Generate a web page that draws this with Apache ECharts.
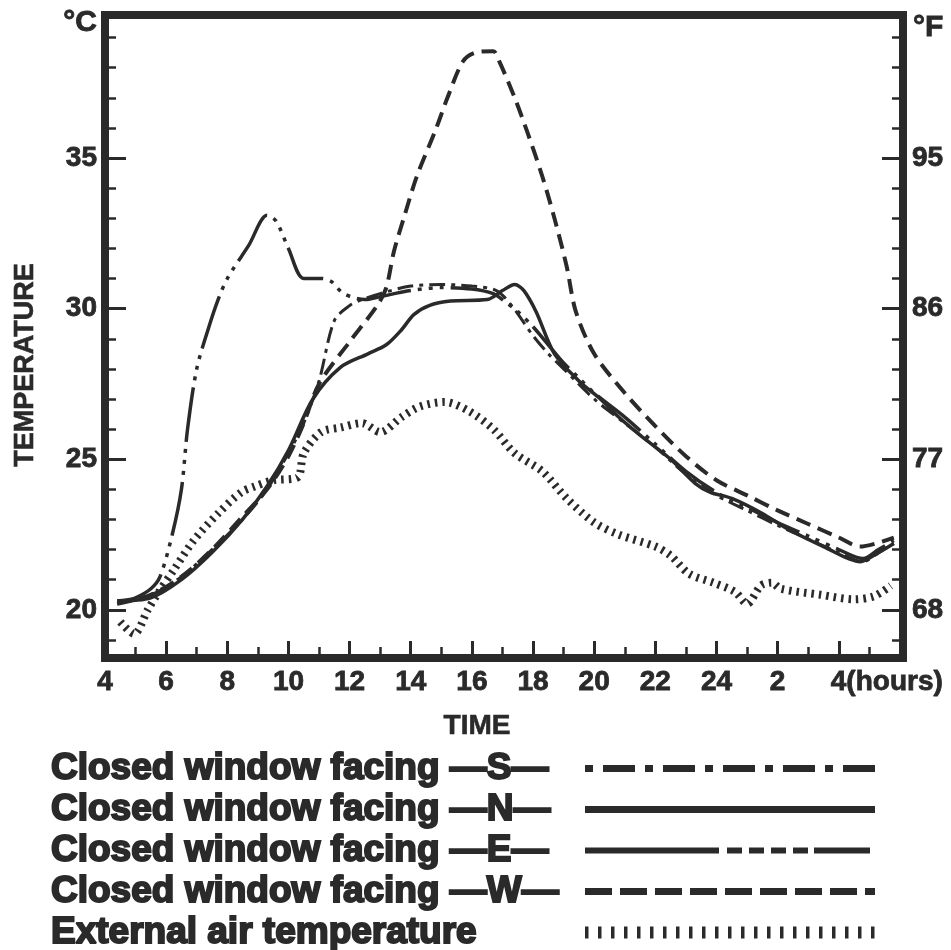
<!DOCTYPE html>
<html><head><meta charset="utf-8">
<script src="https://cdn.jsdelivr.net/npm/echarts@6/dist/echarts.min.js"></script>
<style>html,body{margin:0;padding:0;background:#fff}#c{width:951px;height:950px}</style>
</head><body><div id="c"></div>
<script>
// ---- tick labels ----
const xTickValues = [4, 6, 8, 10, 12, 14, 16, 18, 20, 22, 24, 26, 28];
const xTickLabels = ['4', '6', '8', '10', '12', '14', '16', '18', '20', '22', '24', '2', '4(hours)'];
const yTickValuesC = [20, 25, 30, 35];
const yTickLabelsC = ['20', '25', '30', '35'];
const yTickLabelsF = ['68', '77', '86', '95'];

// ---- series names ----
const seriesNames = [
  'Closed window facing \u2014S\u2014',
  'Closed window facing \u2014N\u2014',
  'Closed window facing \u2014E\u2014',
  'Closed window facing \u2014W\u2014',
  'External air temperature'
];

// ---- data (time in hours from 4 h, temperature in °C) ----
const sTime = [4.4, 5.0, 5.5, 5.8, 6.2, 6.5, 6.7, 7.0, 7.4, 7.7, 8.0, 8.7, 9.3, 9.6, 10.0, 10.5, 11.1, 11.4, 11.8, 12.5, 13.0, 14.0, 15.0, 16.0, 16.7, 17.0, 17.5, 18.0, 18.5, 19.0, 19.5, 20.0, 21.0, 22.0, 23.0, 24.0, 25.0, 26.0, 27.0, 28.0, 28.8, 29.3, 29.8];
const sTemp = [20.2, 20.4, 20.7, 21.1, 22.5, 24.0, 26.0, 28.0, 29.4, 30.3, 31.0, 32.1, 33.1, 32.9, 32.0, 31.0, 31.0, 30.9, 30.5, 30.3, 30.4, 30.6, 30.7, 30.65, 30.5, 30.3, 29.9, 29.4, 28.8, 28.2, 27.7, 27.2, 26.4, 25.5, 24.6, 23.9, 23.4, 22.9, 22.45, 22.0, 21.7, 22.0, 22.3];

const nTime = [4.4, 5.5, 6.5, 7.5, 8.5, 9.3, 10.0, 10.8, 11.7, 12.6, 13.2, 13.7, 14.1, 14.6, 15.3, 16.5, 17.0, 17.4, 17.7, 18.1, 18.7, 19.5, 20.2, 20.8, 21.5, 22.5, 23.3, 23.8, 24.5, 25.5, 26.3, 27.5, 28.7, 29.3, 29.8];
const nTemp = [20.3, 20.4, 21.0, 21.9, 23.0, 24.1, 25.3, 27.0, 28.05, 28.5, 28.8, 29.3, 29.8, 30.1, 30.25, 30.3, 30.6, 30.8, 30.6, 29.9, 28.5, 27.6, 27.0, 26.4, 25.8, 25.0, 24.2, 23.9, 23.7, 23.2, 22.7, 22.1, 21.6, 21.9, 22.2];

const eTime = [4.4, 5.5, 6.5, 7.5, 8.5, 9.3, 10.0, 10.5, 11.0, 11.5, 12.0, 12.4, 13.0, 14.0, 15.0, 16.0, 16.8, 17.3, 18.0, 18.5, 19.0, 20.0, 21.0, 22.0, 23.0, 24.0, 25.0, 26.0, 27.0, 28.0, 28.8, 29.3, 29.8];
const eTemp = [20.3, 20.5, 21.1, 22.0, 23.0, 24.0, 25.2, 26.2, 27.6, 29.6, 30.1, 30.3, 30.5, 30.75, 30.8, 30.75, 30.6, 30.1, 29.1, 28.5, 28.0, 27.0, 26.2, 25.4, 24.5, 23.8, 23.3, 22.8, 22.35, 21.9, 21.6, 21.9, 22.2];

const wTime = [4.4, 5.5, 6.5, 7.5, 8.5, 9.3, 10.0, 10.5, 11.0, 12.0, 12.9, 13.2, 13.45, 13.8, 14.2, 14.8, 15.2, 15.7, 16.1, 16.7, 16.9, 17.4, 17.8, 18.3, 18.7, 19.1, 19.4, 20.0, 21.0, 22.0, 23.0, 24.0, 25.0, 26.0, 27.0, 28.0, 28.7, 29.2, 29.8];
const wTemp = [20.2, 20.5, 21.1, 22.0, 23.1, 24.0, 25.1, 26.2, 27.5, 28.9, 30.1, 30.7, 31.9, 33.1, 34.4, 35.9, 37.0, 38.2, 38.5, 38.55, 38.2, 37.0, 35.9, 34.4, 33.0, 31.4, 29.9, 28.5, 27.2, 26.1, 25.1, 24.3, 23.8, 23.3, 22.85, 22.4, 22.1, 22.2, 22.4];

const extTime = [4.5, 4.95, 5.4, 5.7, 6.3, 6.9, 7.7, 8.45, 8.9, 9.5, 10.3, 10.5, 11.07, 11.7, 12.4, 13.0, 13.7, 14.3, 15.1, 15.9, 16.7, 17.4, 18.3, 19.1, 20.0, 20.8, 22.0, 22.5, 23.1, 23.9, 24.6, 25.0, 25.45, 25.8, 26.1, 27.4, 28.5, 29.15, 29.7];
const extTemp = [19.6, 19.2, 20.0, 20.5, 21.4, 22.3, 23.2, 23.9, 24.1, 24.3, 24.4, 25.2, 25.9, 26.05, 26.2, 25.9, 26.4, 26.75, 26.9, 26.6, 26.0, 25.2, 24.6, 23.7, 22.9, 22.5, 22.1, 21.8, 21.2, 20.9, 20.6, 20.2, 20.8, 20.9, 20.7, 20.5, 20.35, 20.45, 20.8];

// ---- styles ----
const INK = '#2a2a2a';
const FONT = '"Liberation Sans", Arial, sans-serif';
const chartLine = [
  { width: 3.5, type: [55, 7, 4, 7, 4, 7, 4, 7] },
  { width: 3.5, type: 'solid' },
  { width: 3, type: [16, 6, 4, 6] },
  { width: 4, type: [15, 8] },
  { width: 8, type: [2.5, 5] }
];
const legendLine = [
  { width: 7, type: [8, 10, 32, 10] },
  { width: 7, type: 'solid' },
  { width: 6, type: [134, 8, 15, 7, 15, 7, 15, 7, 15, 6, 56, 300] },
  { width: 7, type: [27, 8] },
  { width: 12, type: [3.5, 9.5] }
];

function pairs(t, v) { return t.map((x, i) => [x, v[i]]); }
const seriesData = [pairs(sTime, sTemp), pairs(nTime, nTemp), pairs(eTime, eTemp), pairs(wTime, wTemp), pairs(extTime, extTemp)];

function findIdx(arr, v) { for (let i = 0; i < arr.length; i++) if (Math.abs(arr[i] - v) < 1e-6) return i; return -1; }

const tickFont = { color: INK, fontSize: 28, fontWeight: 'bold', fontFamily: FONT, textBorderColor: INK, textBorderWidth: 0.8 };
const nameFont = { color: INK, fontSize: 28, fontWeight: 'bold', fontFamily: FONT, textBorderColor: INK, textBorderWidth: 0.6 };

const chart = echarts.init(document.getElementById('c'), null, { renderer: 'canvas' });
chart.setOption({
  animation: false,
  backgroundColor: '#ffffff',
  color: [INK],
  grid: { left: 105, right: 48, top: 15, bottom: 292, show: true, borderColor: INK, borderWidth: 8, backgroundColor: 'transparent' },
  xAxis: {
    type: 'value', min: 4, max: 30.1, interval: 2,
    axisLine: { show: false }, splitLine: { show: false },
    axisTick: { show: true, inside: true, length: 17, lineStyle: { color: INK, width: 3 } },
    minorTick: { show: true, splitNumber: 2, length: 11, lineStyle: { color: INK, width: 2.5 } },
    axisLabel: Object.assign({
      margin: 10,
      formatter: function (v) {
        const i = findIdx(xTickValues, v);
        if (i < 0) return '';
        const s = xTickLabels[i];
        const k = s.indexOf('(');
        if (k > 0) return '{p| }{h|' + s.slice(0, k) + '}{r|' + s.slice(k) + '}';
        return s;
      },
      rich: {
        p: Object.assign({ width: 96 }, tickFont),
        h: Object.assign({}, tickFont),
        r: Object.assign({}, tickFont)
      }
    }, tickFont),
    name: 'TIME', nameLocation: 'middle', nameGap: 54,
    nameTextStyle: Object.assign({ padding: [0, 54, 0, 0] }, nameFont)
  },
  yAxis: [
    {
      type: 'value', position: 'left', min: 18.4, max: 39.75,
      axisLine: { show: false }, splitLine: { show: false },
      axisTick: { show: true, inside: true, length: 21, lineStyle: { color: INK, width: 3 } },
      minorTick: { show: true, splitNumber: 5, length: 11, lineStyle: { color: INK, width: 2.5 } },
      axisLabel: Object.assign({ margin: 8, formatter: v => { const i = findIdx(yTickValuesC, v); return i < 0 ? '' : yTickLabelsC[i]; } }, tickFont),
      name: 'TEMPERATURE', nameLocation: 'middle', nameGap: 66,
      nameTextStyle: Object.assign({ padding: [0, 57, 0, 0] }, nameFont, { fontSize: 27 })
    },
    {
      type: 'value', position: 'right', min: 18.4, max: 39.75,
      axisLine: { show: false }, splitLine: { show: false },
      axisTick: { show: true, inside: true, length: 21, lineStyle: { color: INK, width: 3 } },
      minorTick: { show: true, splitNumber: 5, length: 11, lineStyle: { color: INK, width: 2.5 } },
      axisLabel: Object.assign({ margin: 9, formatter: v => { const i = findIdx(yTickValuesC, v); return i < 0 ? '' : yTickLabelsF[i]; } }, tickFont)
    }
  ],
  graphic: [
    { type: 'text', x: 97, y: 23, style: { text: '\u00b0C', align: 'right', verticalAlign: 'middle', font: 'bold 30px ' + FONT, fill: INK, stroke: INK, lineWidth: 0.8 } },
    { type: 'text', x: 913, y: 28, style: { text: '\u00b0F', align: 'left', verticalAlign: 'middle', font: 'bold 30px ' + FONT, fill: INK, stroke: INK, lineWidth: 0.8 } }
  ],
  legend: {
    orient: 'vertical', left: 50, top: 749, height: 260, padding: 0, itemGap: 2,
    itemWidth: 290, itemHeight: 4, align: 'right', selectedMode: false,
    itemStyle: { opacity: 0, borderWidth: 0 },
    formatter: n => '{t|' + n + '}',
    textStyle: {
      color: INK, fontSize: 37, fontWeight: 'bold', fontFamily: FONT,
      rich: { t: { width: 529, align: 'left', fontSize: 37, fontWeight: 'bold', fontFamily: FONT, color: INK, lineHeight: 40, textBorderColor: INK, textBorderWidth: 2 } }
    },
    data: seriesNames.map((n, i) => ({ name: n, lineStyle: Object.assign({ color: INK }, legendLine[i]) }))
  },
  series: seriesNames.map((n, i) => ({
    name: n, type: 'line', data: seriesData[i], symbol: 'none', smooth: 0.3,
    xAxisIndex: 0, yAxisIndex: 0,
    itemStyle: { color: INK },
    lineStyle: Object.assign({ color: INK }, chartLine[i])
  }))
});
</script></body></html>
